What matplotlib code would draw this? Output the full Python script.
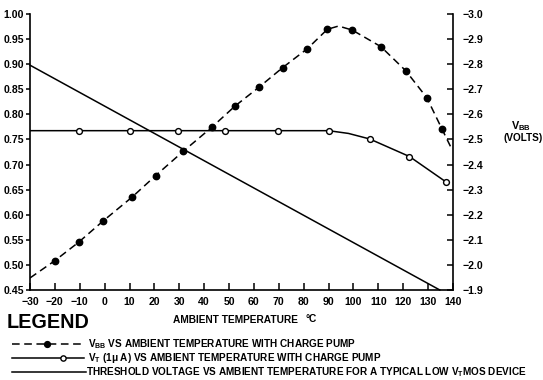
import matplotlib
matplotlib.use('Agg')
import matplotlib.pyplot as plt
import numpy as np

plt.rcParams['font.family'] = ['Liberation Sans', 'DejaVu Sans']
plt.rcParams['font.weight'] = 'bold'
plt.rcParams['mathtext.fontset'] = 'custom'
plt.rcParams['mathtext.rm'] = 'Liberation Sans:bold'
plt.rcParams['mathtext.bf'] = 'Liberation Sans:bold'
plt.rcParams['mathtext.it'] = 'Liberation Sans:bold'
plt.rcParams['axes.unicode_minus'] = True

# ---------------- data ----------------
# V_BB vs ambient temperature with charge pump (right axis, volts)
vbb_temp = [-20, -10.5, -0.5, 11, 20.5, 31.5, 43, 52.5, 62, 71.5, 81.5, 89.5,
            99.5, 111, 121, 129.5, 135.5]
vbb_volts = [-2.017, -2.09, -2.176, -2.27, -2.356, -2.452, -2.548, -2.634, -2.708,
             -2.786, -2.862, -2.939, -2.936, -2.87, -2.774, -2.666, -2.543]
# dashed curve ends / peak
vbb_curve_temp = [-30, -20, -10.5, -0.5, 11, 20.5, 31.5, 43, 52.5, 62, 71.5, 81.5,
                  89.5, 94, 99.5, 111, 121, 129.5, 135.5, 139]
vbb_curve_volts = [-1.948, -2.017, -2.09, -2.176, -2.27, -2.356, -2.452, -2.548,
                   -2.634, -2.708, -2.786, -2.862, -2.939, -2.952, -2.936, -2.87,
                   -2.774, -2.666, -2.543, -2.472]

# V_T (1 uA) vs ambient temperature with charge pump (left axis)
vt_temp = [-10.5, 10, 29.5, 48.5, 69.5, 90, 106.5, 122.5, 137]
vt_vals = [0.7675, 0.7675, 0.7675, 0.7675, 0.7675, 0.7675, 0.751, 0.716, 0.666]
vt_curve_temp = [-30, -10.5, 10, 29.5, 48.5, 69.5, 90, 98, 106.5, 122.5, 137]
vt_curve_vals = [0.7675, 0.7675, 0.7675, 0.7675, 0.7675, 0.7675, 0.7675, 0.762,
                 0.751, 0.716, 0.666]

# Threshold voltage for a typical low V_T MOS device (left axis)
th_temp = [-30, 134.7]
th_vals = [0.898, 0.45]

x_ticks = list(range(-30, 141, 10))
left_ticks = [0.45, 0.50, 0.55, 0.60, 0.65, 0.70, 0.75, 0.80, 0.85, 0.90, 0.95, 1.00]
right_ticks = [-1.9, -2.0, -2.1, -2.2, -2.3, -2.4, -2.5, -2.6, -2.7, -2.8, -2.9, -3.0]

# ---------------- figure ----------------
W, H = 543, 380
fig = plt.figure(figsize=(W / 100, H / 100), dpi=100)
fig.patch.set_facecolor('white')

x0, x1, y0, y1 = 30, 453, 14, 290
ax = fig.add_axes([x0 / W, 1 - y1 / H, (x1 - x0) / W, (y1 - y0) / H])
ax.set_xlim(-30, 140)
ax.set_ylim(0.45, 1.00)
ax.patch.set_alpha(0)

ax2 = ax.twinx()
ax2.set_ylim(-1.9, -3.0)

lw = 1.1
ax.plot(th_temp, th_vals, color='black', lw=lw, clip_on=False)
ax.plot(vt_curve_temp, vt_curve_vals, color='black', lw=lw)
ax.plot(vt_temp, vt_vals, linestyle='none', marker='o', ms=4.2,
        mfc='white', mec='black', mew=1.0, zorder=5)
ax2.plot(vbb_curve_temp, vbb_curve_volts, color='black', lw=lw,
         linestyle=(0, (5, 3)))
ax2.plot(vbb_temp, vbb_volts, linestyle='none', marker='o', ms=4.6,
         mfc='black', mec='black', zorder=5)

for a in (ax, ax2):
    a.spines['top'].set_visible(False)
    for s in a.spines.values():
        s.set_linewidth(1.2)
ax.spines['right'].set_visible(False)
ax2.spines['left'].set_visible(False)
ax2.spines['bottom'].set_visible(False)

ax.set_xticks(x_ticks)
ax.set_xticklabels([f'{t}'.replace('-', '\u2212') for t in x_ticks])
ax.set_yticks(left_ticks)
ax.set_yticklabels([f'{v:.2f}' for v in left_ticks])
ax2.set_yticks(right_ticks)
ax2.set_yticklabels([f'{v:.1f}'.replace('-', '\u2212') for v in right_ticks])

ax.tick_params(axis='x', direction='in', length=5, width=1.1, pad=5,
               labelsize=7.6)
ax.tick_params(axis='y', direction='out', length=3, width=1.1, pad=1.5,
               labelsize=7.6)
ax2.tick_params(axis='y', direction='in', length=4, width=1.1, pad=6.5,
                labelsize=7.6)
for lab in ax.get_xticklabels() + ax.get_yticklabels() + ax2.get_yticklabels():
    lab.set_fontweight('bold')

# right axis title
fig.text(521 / W, 1 - 126 / H, r'V$_{\mathrm{BB}}$', ha='center', va='center',
         fontsize=7.8, fontweight='bold')
fig.text(523 / W, 1 - 138 / H, '(VOLTS)', ha='center', va='center',
         fontsize=7.2, fontweight='bold')

# ---------------- legend area ----------------
lax = fig.add_axes([0, 0, 1, 1])
lax.set_xlim(0, W)
lax.set_ylim(H, 0)
lax.axis('off')
lax.patch.set_alpha(0)

lax.text(7, 322, 'LEGEND', ha='left', va='center', fontsize=14.3, fontweight='bold')
lax.text(173, 320, 'AMBIENT TEMPERATURE', ha='left', va='center', fontsize=7.3,
         fontweight='bold')
lax.text(306, 319, '\u00b0C', ha='left', va='center', fontsize=7.3,
         fontweight='bold')

rows = [344, 358, 372]
lax.plot([12, 84], [rows[0]] * 2, color='black', lw=lw, linestyle=(0, (5, 3)))
lax.plot([47], [rows[0]], marker='o', ms=4.2, color='black')
lax.text(88, rows[0], r'V$_{\mathrm{BB}}$ VS AMBIENT TEMPERATURE WITH CHARGE PUMP',
         ha='left', va='center', fontsize=7.2, fontweight='bold')

lax.plot([12, 84], [rows[1]] * 2, color='black', lw=lw)
lax.plot([63], [rows[1]], marker='o', ms=3.8, mfc='white', mec='black', mew=1.0)
lax.text(88, rows[1], 'V$_{\\mathrm{T}}$ (1\u03bc A) VS AMBIENT TEMPERATURE WITH CHARGE PUMP',
         ha='left', va='center', fontsize=7.2, fontweight='bold')

lax.plot([12, 86], [rows[2]] * 2, color='black', lw=lw)
lax.text(86, rows[2],
         'THRESHOLD VOLTAGE VS AMBIENT TEMPERATURE FOR A TYPICAL LOW V$_{\\mathrm{T}}$MOS DEVICE',
         ha='left', va='center', fontsize=7.2, fontweight='bold')

fig.savefig('out.png', dpi=100)
